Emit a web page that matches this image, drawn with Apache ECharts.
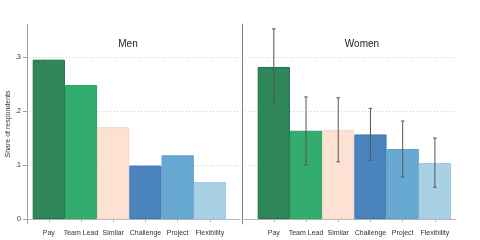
<!DOCTYPE html>
<html>
<head>
<meta charset="utf-8">
<script src="https://cdn.jsdelivr.net/npm/echarts@6/dist/echarts.min.js"></script>
<style>html,body{margin:0;padding:0;background:#fff}#c{width:480px;height:240px}</style>
</head>
<body>
<div id="c"></div>
<script>
const categories = ['Pay', 'Team Lead', 'Similar', 'Challenge', 'Project', 'Flexibility'];
const menShare = [0.295, 0.248, 0.170, 0.099, 0.118, 0.0685];
const womenShare = [0.2815, 0.1635, 0.165, 0.1567, 0.1296, 0.1037];
const womenLow = [0.213, 0.1006, 0.106, 0.109, 0.078, 0.059];
const womenHigh = [0.352, 0.226, 0.2246, 0.205, 0.1815, 0.150];
const yTicks = [0, 0.1, 0.2, 0.3];
const panelTitles = ['Men', 'Women'];

const fills = ['#2f8659', '#33ad6e', '#fde1d3', '#4a84bf', '#68a9d2', '#a9d1e6'];
const borders = ['#1f7045', '#27a062', '#f7d6c5', '#3d76b4', '#5a9cc9', '#9bc7df'];

const YMIN = -0.009, YMAX = 0.361;
const FONT = 'Liberation Sans, Arial, sans-serif';
const fmtY = v => { const r = Math.round(v * 10); return r === 0 ? '0' : '.' + r; };

const grids = [
  {left: 27, top: 24, width: 213, height: 200},     // frame left
  {left: 32.7, top: 24, width: 193.3, height: 200}, // bars left
  {left: 242, top: 24, width: 213.5, height: 200},  // frame right
  {left: 257.7, top: 24, width: 193.3, height: 200} // bars right
];

function frameX(gi) {
  return {type: 'value', gridIndex: gi, min: 0, max: 1,
    axisLine: {show: true, lineStyle: {color: '#b8b8b8', width: 1}},
    axisTick: {show: false}, axisLabel: {show: false}, splitLine: {show: false}};
}
function barX(gi) {
  return {type: 'category', gridIndex: gi, data: categories,
    axisLine: {show: false},
    axisTick: {show: true, alignWithLabel: true, length: 3, lineStyle: {color: '#b8b8b8'}},
    axisLabel: {fontSize: 7, color: '#333', fontFamily: FONT, margin: 6, interval: 0},
    splitLine: {show: false}};
}
function frameY(gi, withLabels, lineColor) {
  return {type: 'value', gridIndex: gi, min: YMIN, max: YMAX,
    name: withLabels ? 'Share of respondents' : '',
    nameLocation: 'middle', nameRotate: 90, nameGap: 14,
    nameTextStyle: {fontSize: 7, color: '#333', fontFamily: FONT},
    axisLine: {show: true, lineStyle: {color: lineColor, width: 1}},
    axisTick: {show: withLabels, length: 4, customValues: yTicks, lineStyle: {color: '#999'}},
    axisLabel: {show: withLabels, customValues: yTicks, fontSize: 7, color: '#333', fontFamily: FONT, margin: 6, formatter: fmtY},
    splitLine: {show: true, customValues: yTicks, lineStyle: {color: '#cfcfcf', type: [1, 2], width: 1}}};
}
function barY(gi) {
  return {type: 'value', gridIndex: gi, min: YMIN, max: YMAX, show: false, splitLine: {show: false}};
}

const errData = categories.map((c, i) => [i, womenLow[i], womenHigh[i]]);

function barSeries(axisIdx, values) {
  return {type: 'bar', xAxisIndex: axisIdx, yAxisIndex: axisIdx, barCategoryGap: '0%',
    data: values.map((v, i) => ({value: v, itemStyle: {color: fills[i], borderColor: borders[i], borderWidth: 1}}))};
}

const option = {
  animation: false,
  backgroundColor: '#fff',
  title: panelTitles.map((t, i) => ({
    text: t, left: i === 0 ? 123 : 357, top: 34, textAlign: 'center',
    textStyle: {fontSize: 10, fontWeight: 'normal', color: '#222', fontFamily: FONT}
  })),
  grid: grids,
  xAxis: [frameX(0), barX(1), frameX(2), barX(3)],
  yAxis: [frameY(0, true, '#a0a0a0'), barY(1), frameY(2, false, '#808080'), barY(3)],
  series: [
    barSeries(1, menShare),
    barSeries(3, womenShare),
    {type: 'custom', xAxisIndex: 3, yAxisIndex: 3, data: errData, z: 5,
      renderItem: (params, api) => {
        const i = api.value(0);
        const lo = api.coord([i, api.value(1)]);
        const hi = api.coord([i, api.value(2)]);
        const cap = 1.8;
        const st = {stroke: '#555', lineWidth: 1};
        return {type: 'group', children: [
          {type: 'line', shape: {x1: lo[0], y1: lo[1], x2: hi[0], y2: hi[1]}, style: st},
          {type: 'line', shape: {x1: hi[0] - cap, y1: hi[1], x2: hi[0] + cap, y2: hi[1]}, style: st},
          {type: 'line', shape: {x1: lo[0] - cap, y1: lo[1], x2: lo[0] + cap, y2: lo[1]}, style: st}
        ]};
      }}
  ]
};
const chart = echarts.init(document.getElementById('c'), null, {renderer: 'canvas'});
chart.setOption(option);
</script>
</body>
</html>
